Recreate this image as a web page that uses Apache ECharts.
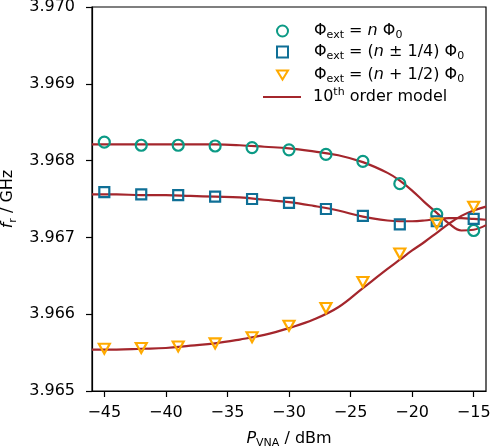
<!DOCTYPE html>
<html>
<head>
<meta charset="utf-8">
<title>f_r vs P_VNA</title>
<script src="https://cdn.jsdelivr.net/npm/echarts@6/dist/echarts.min.js"></script>
<style>
html, body { margin: 0; padding: 0; background: #fff; }
#main { width: 491px; height: 448px; }
</style>
</head>
<body>
<div id="main"></div>
<script>
// measured points (P_VNA in dBm, f_r in GHz)
var powers = [-45, -42, -39, -36, -33, -30, -27, -24, -21, -18, -15];
var fInt = [3.96824, 3.96820, 3.96820, 3.96819, 3.96817, 3.96814, 3.96808, 3.96799, 3.96770, 3.96730, 3.96709];
var fQuarter = [3.96759, 3.96756, 3.96755, 3.96753, 3.96750, 3.96745, 3.96737, 3.96728, 3.96717, 3.96721, 3.96724];
var fHalf = [3.96555, 3.96556, 3.96558, 3.96562, 3.96570, 3.96585, 3.96608, 3.96642, 3.96679, 3.96718, 3.96740];

// 10th order model
var modelP = [-46, -44, -42, -40, -38, -36, -34, -32, -30, -28, -26, -24, -22, -21, -20, -19, -18, -17, -16, -15, -14];
var modelInt = [3.96821, 3.96821, 3.96821, 3.96821, 3.96821, 3.96821, 3.96820, 3.96818, 3.96816, 3.96812, 3.96807, 3.96798, 3.96784, 3.96774, 3.96761, 3.96746, 3.96732, 3.96718, 3.96709, 3.96710, 3.96716];
var modelQuarter = [3.96756, 3.96756, 3.96755, 3.96755, 3.96754, 3.96753, 3.96752, 3.96749, 3.96746, 3.96741, 3.96735, 3.96727, 3.96722, 3.96721, 3.96721, 3.96722, 3.96724, 3.96725, 3.96725, 3.96724, 3.96723];
var modelHalf = [3.96554, 3.96554, 3.96555, 3.96556, 3.96559, 3.96562, 3.96567, 3.96573, 3.96582, 3.96593, 3.96609, 3.96634, 3.96659, 3.96671, 3.96683, 3.96694, 3.96706, 3.96718, 3.96728, 3.96735, 3.96740];

var xTicks = [-45, -40, -35, -30, -25, -20, -15];
var yTicks = [3.965, 3.966, 3.967, 3.968, 3.969, 3.970];

function pairs(xs, ys) {
	return xs.map(function (x, i) { return [x, ys[i]]; });
}

var FONT = 'DejaVu Sans';
function rich(gap) {
	return {
		g: { width: gap, fontSize: 4 },
		a: { fontFamily: FONT, fontSize: 16, lineHeight: 20, color: '#000' },
		i: { fontFamily: FONT, fontSize: 16, lineHeight: 20, fontStyle: 'italic', color: '#000' },
		s: { fontFamily: FONT, fontSize: 11, lineHeight: 11, verticalAlign: 'bottom', color: '#000' },
		u: { fontFamily: FONT, fontSize: 11, lineHeight: 11, verticalAlign: 'top', color: '#000' }
	};
}

var labels = {
	'int': '{g| }{a|Φ}{s|ext}{a| = }{i|n}{a| Φ}{s|0}',
	'quarter': '{g| }{a|Φ}{s|ext}{a| = (}{i|n}{a| ± 1/4) Φ}{s|0}',
	'half': '{g| }{a|Φ}{s|ext}{a| = (}{i|n}{a| + 1/2) Φ}{s|0}',
	'model': '{g| }{a|10}{u|th}{a| order model}'
};

// one legend per row so the rows sit where the reference has them
function legendRow(name, top, isLine) {
	return {
		data: isLine ? [{ name: name, icon: 'rect' }] : [name],
		left: isLine ? 263 : 276,
		top: top,
		orient: 'vertical',
		itemWidth: isLine ? 38 : 11,
		itemHeight: isLine ? 2.2 : 11,
		padding: 0,
		formatter: function (n) { return labels[n]; },
		textStyle: { rich: rich(isLine ? 7 : 21) }
	};
}

var myChart = echarts.init(document.getElementById('main'), null, { renderer: 'canvas' });

var option = {
	animation: false,
	backgroundColor: '#fff',
	grid: {
		left: 92, right: 5, top: 7, bottom: 57,
		outerBoundsMode: 'none',
		containLabel: false,
		show: true, borderColor: '#000', borderWidth: 1.2
	},
	legend: [
		legendRow('int', 23, false),
		legendRow('quarter', 44, false),
		legendRow('half', 67, false),
		legendRow('model', 87, true)
	],
	xAxis: {
		type: 'value',
		min: -46,
		max: -14,
		name: '{i|P}{s|VNA}{a| / dBm}',
		nameLocation: 'middle',
		nameGap: 38,
		nameTextStyle: { rich: rich(0) },
		axisLine: { show: true, lineStyle: { color: '#000', width: 1.2 } },
		axisTick: { show: true, length: 6, lineStyle: { color: '#000', width: 1.2 }, customValues: xTicks },
		axisLabel: {
			margin: 14,
			color: '#000',
			fontFamily: FONT,
			fontSize: 16,
			customValues: xTicks,
			formatter: function (v) { return (v < 0 ? '\u2212' : '') + Math.abs(v); }
		},
		splitLine: { show: false }
	},
	yAxis: {
		type: 'value',
		min: 3.965,
		max: 3.970,
		interval: 0.001,
		name: '{i|f}{s|r}{a| / GHz}',
		nameLocation: 'middle',
		nameGap: 68,
		nameTextStyle: { rich: rich(0) },
		axisLine: { show: true, lineStyle: { color: '#000', width: 1.2 } },
		axisTick: { show: true, length: 6, lineStyle: { color: '#000', width: 1.2 } },
		axisLabel: {
			margin: 17,
			color: '#000',
			fontFamily: FONT,
			fontSize: 16,
			formatter: function (v) { return v.toFixed(3); }
		},
		splitLine: { show: false }
	},
	series: [
		{
			name: 'model', type: 'line', data: pairs(modelP, modelInt),
			symbol: 'none', smooth: 0.4, z: 2,
			lineStyle: { color: '#a4262c', width: 2.2 }, itemStyle: { color: '#a4262c' }
		},
		{
			name: 'model', type: 'line', data: pairs(modelP, modelQuarter),
			symbol: 'none', smooth: 0.4, z: 2,
			lineStyle: { color: '#a4262c', width: 2.2 }, itemStyle: { color: '#a4262c' }
		},
		{
			name: 'model', type: 'line', data: pairs(modelP, modelHalf),
			symbol: 'none', smooth: 0.4, z: 2,
			lineStyle: { color: '#a4262c', width: 2.2 }, itemStyle: { color: '#a4262c' }
		},
		{
			name: 'int', type: 'scatter', data: pairs(powers, fInt),
			symbol: 'circle', symbolSize: 11, z: 3,
			itemStyle: { color: 'rgba(255,255,255,0)', borderColor: '#0b9a85', borderWidth: 2.2, opacity: 1 }
		},
		{
			name: 'quarter', type: 'scatter', data: pairs(powers, fQuarter),
			symbol: 'rect', symbolSize: 10, z: 3,
			itemStyle: { color: 'rgba(255,255,255,0)', borderColor: '#0f6f96', borderWidth: 2.2, opacity: 1 }
		},
		{
			name: 'half', type: 'scatter', data: pairs(powers, fHalf),
			symbol: 'path://M0,0L12,0L6,10Z', symbolSize: [11, 10], z: 3,
			itemStyle: { color: 'rgba(255,255,255,0)', borderColor: '#ffaa00', borderWidth: 2.2, opacity: 1 }
		}
	]
};

myChart.setOption(option);
</script>
</body>
</html>
